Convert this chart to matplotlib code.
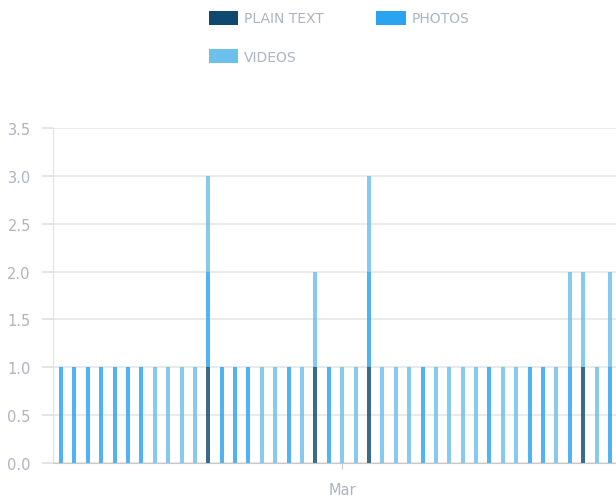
import datetime as dt

import matplotlib
matplotlib.use("Agg")
import matplotlib.pyplot as plt
import matplotlib.dates as mdates
from matplotlib.patches import Patch

# one bar per day, starting Feb 8
START = dt.date(2019, 2, 8)
N_DAYS = 42
days = [START + dt.timedelta(days=i) for i in range(N_DAYS)]

plain_text = [0] * N_DAYS
for i in (11, 19, 23, 39):
    plain_text[i] = 1

photos = [1, 1, 1, 1, 1, 1, 1, 0, 0, 0, 0, 1, 1, 1, 1, 0, 0, 1, 0, 0, 1,
          0, 0, 1, 0, 0, 0, 1, 0, 0, 0, 0, 1, 0, 0, 1, 1, 0, 1, 0, 0, 1]
videos = [0, 0, 0, 0, 0, 0, 0, 1, 1, 1, 1, 1, 0, 0, 0, 1, 1, 0, 1, 1, 0,
          1, 1, 1, 1, 1, 1, 0, 1, 1, 1, 1, 0, 1, 1, 0, 0, 1, 1, 1, 1, 1]

SERIES = ["PLAIN TEXT", "PHOTOS", "VIDEOS"]
COLORS = ["#0e4a6f", "#2aa4f0", "#6dbfec"]
TXT = "#abb4c2"

fig = plt.figure(figsize=(6.16, 5.02), dpi=100)
ax = fig.add_axes([53 / 616, 38 / 502, 1 - 53 / 616, (464 - 129) / 502])

bottom = [0] * N_DAYS
for vals, col in zip([plain_text, photos, videos], COLORS):
    ax.bar(days, vals, width=0.3, bottom=bottom, color=col, alpha=0.82,
           linewidth=0)
    bottom = [b + v for b, v in zip(bottom, vals)]

ax.set_xlim(mdates.date2num(START) - 0.6, mdates.date2num(START) + 41.45)
ax.set_ylim(0, 3.5)
ax.set_yticks([0, 0.5, 1, 1.5, 2, 2.5, 3, 3.5])
ax.yaxis.set_major_formatter(matplotlib.ticker.FormatStrFormatter("%.1f"))
ax.xaxis.set_major_locator(mdates.MonthLocator())
ax.xaxis.set_major_formatter(mdates.DateFormatter("%b"))

ax.grid(axis="y", color="#e8e8e8", linewidth=1.3)
ax.set_axisbelow(True)
for s in ("top", "right"):
    ax.spines[s].set_visible(False)
ax.spines["left"].set_color("#e0e0e0")
ax.spines["bottom"].set_color("#c8c8c8")
ax.tick_params(axis="y", colors="#e0e0e0", labelcolor=TXT, labelsize=10.5,
               length=8, width=1.2, pad=8)
ax.tick_params(axis="x", colors="#c8c8c8", labelcolor=TXT, labelsize=10.5,
               length=4, pad=10)

# legend fills column-first, so order gives rows PLAIN TEXT/PHOTOS, VIDEOS
order = [0, 2, 1]
handles = [Patch(facecolor=COLORS[i], label=SERIES[i]) for i in order]
fig.legend(handles=handles, loc="upper left", bbox_to_anchor=(196 / 616, 1 + 1 / 502),
           ncol=2, frameon=False, fontsize=10, labelcolor=TXT,
           handlelength=2.1, handleheight=1.2, handletextpad=0.45,
           columnspacing=3.8, labelspacing=1.7)

fig.savefig("out.png", dpi=100)
